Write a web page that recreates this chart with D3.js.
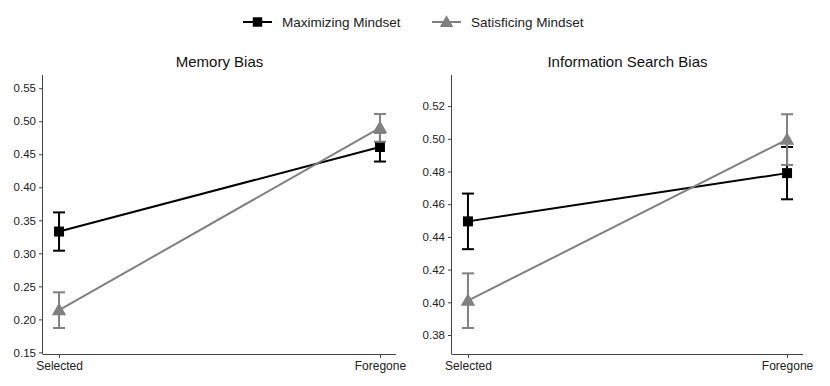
<!DOCTYPE html>
<html>
<head>
<meta charset="utf-8">
<script src="https://cdn.jsdelivr.net/npm/d3@7"></script>
<style>
  body { margin: 0; background: #fff; }
  svg { font-family: "Liberation Sans", Arial, sans-serif; }
</style>
</head>
<body>
<div id="chart-area"></div>
<script>
// Data
const conditions = ['Selected', 'Foregone'];
const seriesNames = ['Maximizing Mindset', 'Satisficing Mindset'];

const memoryMax = [0.333, 0.461];
const memoryMaxErr = [0.029, 0.022];
const memorySat = [0.214, 0.490];
const memorySatErr = [0.027, 0.021];
const memoryTicks = [0.15, 0.20, 0.25, 0.30, 0.35, 0.40, 0.45, 0.50, 0.55];

const searchMax = [0.4495, 0.479];
const searchMaxErr = [0.017, 0.016];
const searchSat = [0.401, 0.4995];
const searchSatErr = [0.0167, 0.0155];
const searchTicks = [0.38, 0.40, 0.42, 0.44, 0.46, 0.48, 0.50, 0.52];

const colors = ['#000000', '#808080'];

const width = 830, height = 386;

const svg = d3.select("#chart-area")
  .append("svg")
    .attr("width", width)
    .attr("height", height);

// Legend
const legend = svg.append('g').attr('class', 'legend');
const legendItems = [
  { name: seriesNames[0], color: colors[0], shape: d3.symbolSquare, x: 243 },
  { name: seriesNames[1], color: colors[1], shape: d3.symbolTriangle, x: 432 }
];
legendItems.forEach(d => {
  const g = legend.append('g').attr('transform', 'translate(' + d.x + ',22)');
  g.append('line')
    .attr('x1', 0).attr('x2', 29)
    .attr('stroke', d.color).attr('stroke-width', 2);
  g.append('path')
    .attr('d', d3.symbol().type(d.shape).size(d.shape === d3.symbolSquare ? 90 : 80))
    .attr('transform', 'translate(14.5,' + (d.shape === d3.symbolSquare ? 0 : 1) + ')')
    .attr('fill', d.color);
  g.append('text')
    .attr('x', 39).attr('y', 0)
    .attr('dy', '0.35em')
    .style('font-size', '13.5px')
    .attr('fill', '#222')
    .text(d.name);
});

const drawPanel = (opts) => {
  const x = d3.scalePoint()
    .domain(conditions)
    .range([opts.left, opts.right])
    .padding(0.05);

  const y = d3.scaleLinear()
    .domain(opts.yDomain)
    .range([354, 75]);

  const chart = svg.append('g').attr('class', 'panel');

  chart.append('text')
    .attr('x', (opts.left + opts.right) / 2)
    .attr('y', 67)
    .attr('text-anchor', 'middle')
    .style('font-size', '15px')
    .attr('fill', '#111')
    .text(opts.title);

  const yAxis = d3.axisLeft(y)
    .tickValues(opts.ticks)
    .tickFormat(d3.format('.2f'))
    .tickSize(4)
    .tickPadding(3);
  const xAxis = d3.axisBottom(x)
    .tickSize(4)
    .tickPadding(3);

  chart.append('g')
    .attr('class', 'y-axis')
    .attr('transform', 'translate(' + opts.left + ',0)')
    .call(yAxis)
    .call(g => g.select('.domain').attr('d', 'M-0.5,75V354.5'));

  chart.append('g')
    .attr('class', 'x-axis')
    .attr('transform', 'translate(0,354)')
    .call(xAxis)
    .call(g => g.select('.domain').attr('d', 'M' + opts.left + ',0.5H' + opts.right));

  chart.selectAll('.domain, .tick line')
    .attr('stroke', '#444')
    .attr('stroke-width', 1);
  chart.selectAll('.tick text')
    .attr('fill', '#222')
    .attr('font-family', '"Liberation Sans", Arial, sans-serif');
  chart.selectAll('.y-axis .tick text').style('font-size', '11.5px');
  chart.selectAll('.x-axis .tick text').style('font-size', '12px');

  const series = [
    { vals: opts.max, errs: opts.maxErr, color: colors[0], shape: d3.symbolSquare },
    { vals: opts.sat, errs: opts.satErr, color: colors[1], shape: d3.symbolTriangle }
  ];

  series.forEach(s => {
    const pts = conditions.map((c, i) => ({ c: c, v: s.vals[i], e: s.errs[i] }));
    const g = chart.append('g');

    g.append('path')
      .datum(pts)
      .attr('fill', 'none')
      .attr('stroke', s.color)
      .attr('stroke-width', 2)
      .attr('d', d3.line().x(d => x(d.c)).y(d => y(d.v)));

    const eb = g.selectAll('.err').data(pts).enter().append('g')
      .attr('stroke', s.color)
      .attr('stroke-width', 2);
    eb.append('line')
      .attr('x1', d => x(d.c)).attr('x2', d => x(d.c))
      .attr('y1', d => y(d.v - d.e)).attr('y2', d => y(d.v + d.e));
    eb.append('line')
      .attr('x1', d => x(d.c) - 6).attr('x2', d => x(d.c) + 6)
      .attr('y1', d => y(d.v - d.e)).attr('y2', d => y(d.v - d.e));
    eb.append('line')
      .attr('x1', d => x(d.c) - 6).attr('x2', d => x(d.c) + 6)
      .attr('y1', d => y(d.v + d.e)).attr('y2', d => y(d.v + d.e));

    g.selectAll('.marker').data(pts).enter().append('path')
      .attr('d', d3.symbol().type(s.shape).size(s.shape === d3.symbolSquare ? 100 : 90))
      .attr('transform', d => 'translate(' + x(d.c) + ',' + (y(d.v) + (s.shape === d3.symbolSquare ? 0 : 1)) + ')')
      .attr('fill', s.color);
  });
};

drawPanel({
  title: 'Memory Bias',
  left: 43, right: 396,
  yDomain: [0.1476, 0.570],
  ticks: memoryTicks,
  max: memoryMax, maxErr: memoryMaxErr,
  sat: memorySat, satErr: memorySatErr
});

drawPanel({
  title: 'Information Search Bias',
  left: 452, right: 803,
  yDomain: [0.3684, 0.539],
  ticks: searchTicks,
  max: searchMax, maxErr: searchMaxErr,
  sat: searchSat, satErr: searchSatErr
});
</script>
</body>
</html>
